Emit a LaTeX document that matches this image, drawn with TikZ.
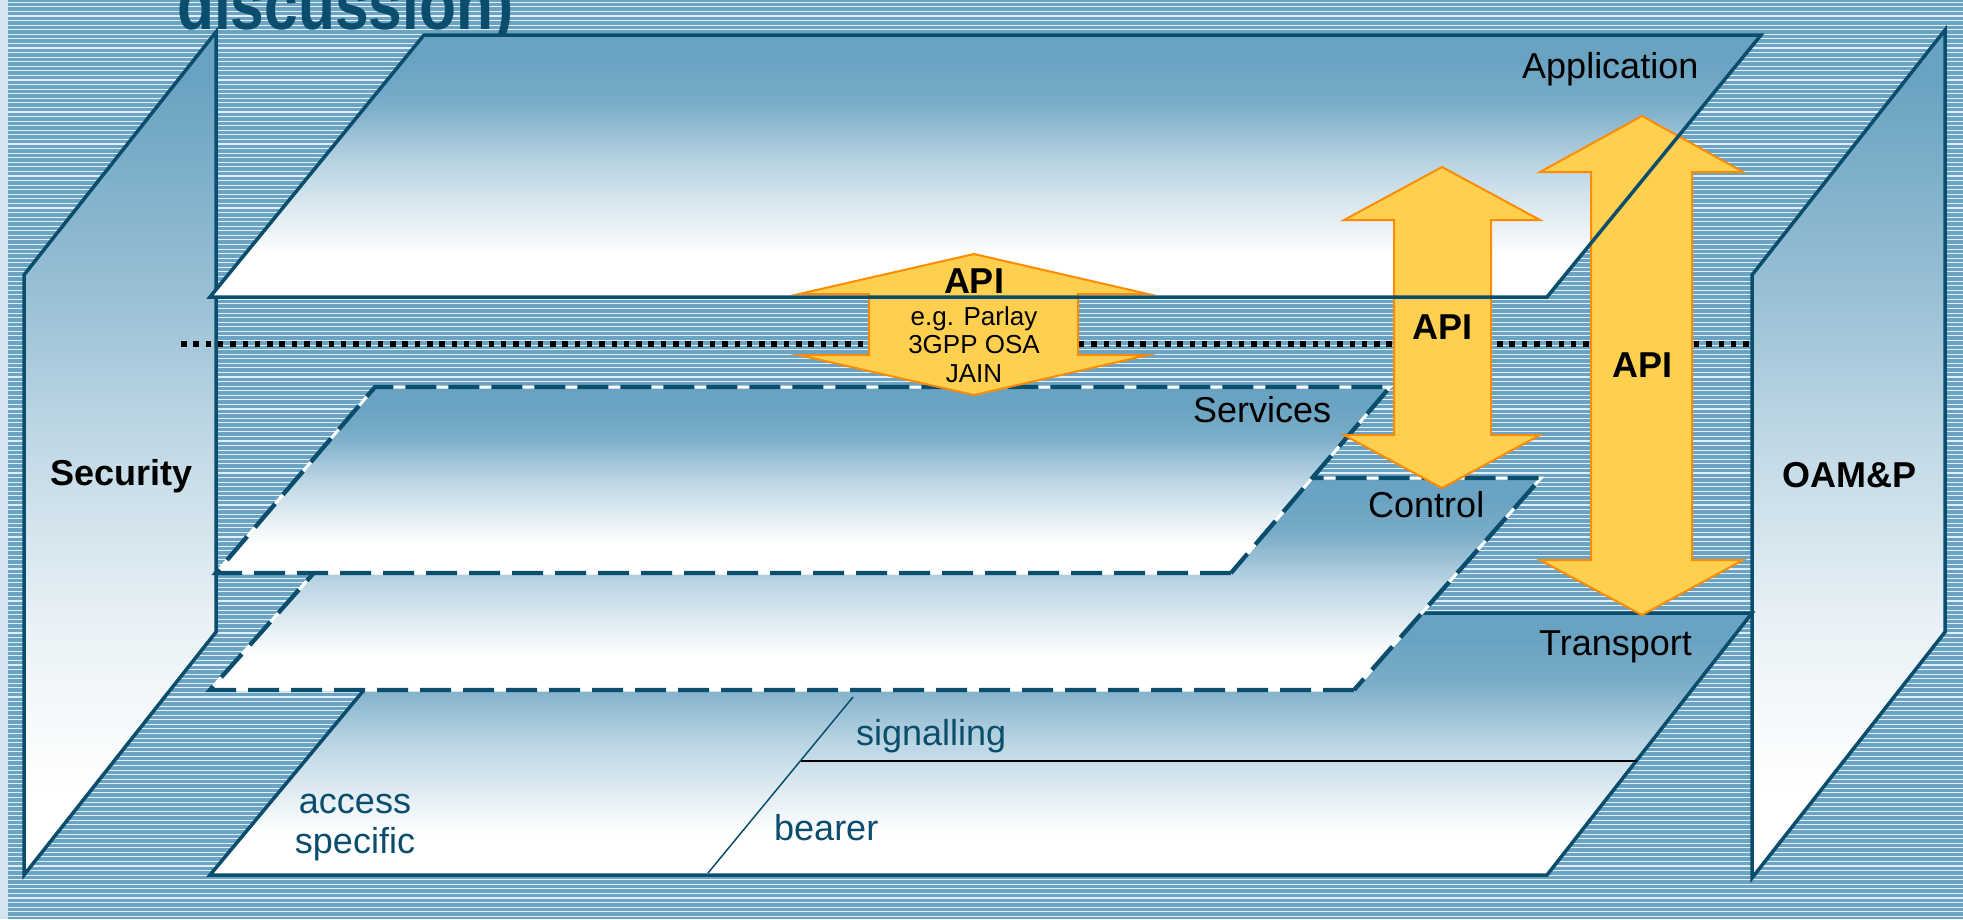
\documentclass[tikz,border=0pt]{standalone}
\usepackage{fontspec}
\setmainfont{Liberation Sans}
\definecolor{lb}{HTML}{6AA3C2}
\definecolor{bgblue}{HTML}{6AA3C3}
\definecolor{stripe}{HTML}{E3EEF4}
\definecolor{leftstrip}{HTML}{D5E5EF}
\definecolor{darkteal}{HTML}{0A4D6C}
\definecolor{arrowfill}{HTML}{FFD04F}
\definecolor{arrowedge}{HTML}{FF8C00}
\pgfdeclareverticalshading{layershade}{100bp}{color(0bp)=(white); color(33bp)=(white); color(50bp)=(lb!45!white); color(62bp)=(lb!90!white); color(70bp)=(lb); color(100bp)=(lb)}
\pgfdeclareverticalshading{wallshade}{100bp}{color(0bp)=(white); color(30bp)=(white); color(40bp)=(lb!15!white); color(50bp)=(lb!40!white); color(60bp)=(lb!70!white); color(72bp)=(lb); color(100bp)=(lb)}
\tikzset{
  solidedge/.style={draw=darkteal, line width=3.5pt, line join=miter},
  dashwhite/.style={draw=white, line width=3pt},
  dashedge/.style={draw=darkteal, line width=4.3pt, dash pattern=on 31pt off 12pt},
  apiarrow/.style={fill=arrowfill, draw=arrowedge, line width=2pt, line join=miter},
  lbl/.style={inner sep=0pt, text=black, font=\fontsize{36}{40}\selectfont},
  blbl/.style={inner sep=0pt, text=black, font=\fontsize{36}{40}\selectfont\bfseries},
  sublbl/.style={inner sep=0pt, text=black, font=\fontsize{26}{28}\selectfont},
  teallbl/.style={inner sep=0pt, text=darkteal, font=\fontsize{36}{40}\selectfont},
}
\begin{document}
\begin{tikzpicture}[x=1pt,y=-1pt]
\useasboundingbox (0,0) rectangle (1963,919);
\clip (0,0) rectangle (1963,919);
% background
\fill[bgblue] (0,0) rectangle (1963,919);
\foreach \i in {0,...,201} {
  \draw[stripe, line width=1.1pt] (8,{2.3+4.57*\i}) -- (1963,{2.3+4.57*\i});
}
\fill[leftstrip] (0,0) rectangle (8,919);
% title (cut off at the top edge, as in the reference)
\node[anchor=base west, inner sep=0pt, text=darkteal, font=\fontsize{72}{74}\selectfont\bfseries, xscale=0.84] (title) at (177,29) {discussion)};
% Security wall
\shade[shading=wallshade] (24,275) -- (216,32) -- (216,632) -- (24,875) -- cycle;
\draw[solidedge] (24,275) -- (216,32) -- (216,632) -- (24,875) -- cycle;
% OAM&P wall
\shade[shading=wallshade] (1752,275) -- (1945,30) -- (1945,632) -- (1752,878) -- cycle;
\draw[solidedge] (1752,275) -- (1945,30) -- (1945,632) -- (1752,878) -- cycle;
% Transport layer
\shade[shading=layershade] (210,875) -- (428,613) -- (1752,613) -- (1547,875) -- cycle;
\draw[solidedge] (210,875) -- (428,613) -- (1752,613) -- (1547,875) -- cycle;
\coordinate (diagtop) at (853,697);
\coordinate (diagbot) at (708,873);
\draw[darkteal, line width=1.5pt] (diagtop) -- (diagbot);
\coordinate (sigL) at (801,761);
\coordinate (sigR) at (1637,761);
\draw[black, line width=1.6pt] (sigL) -- (sigR);
% Control layer
\shade[shading=layershade] (210,690) -- (398,478) -- (1541,478) -- (1354,690) -- cycle;
\draw[dashwhite] (210,690) -- (398,478) -- (1541,478) -- (1354,690) -- cycle;
\draw[dashedge] (1354,690) -- (210,690) -- (398,478) -- (1541,478) -- cycle;
% Services layer
\shade[shading=layershade] (216,573) -- (375,387) -- (1390,387) -- (1231,573) -- cycle;
\draw[dashwhite] (216,573) -- (375,387) -- (1390,387) -- (1231,573) -- cycle;
\draw[dashedge] (1231,573) -- (216,573) -- (375,387) -- (1390,387) -- cycle;
% Application layer fill
\shade[shading=layershade] (210,297) -- (424,35) -- (1761,35) -- (1547,297) -- cycle;
% dotted line
\coordinate (dotL) at (181,344);
\coordinate (dotR) at (1752,344);
\draw[black, line width=6pt, dash pattern=on 5.5pt off 6.8pt] (dotL) -- (dotR);
% API arrows
\draw[apiarrow] (974,254) -- (1148,294) -- (1078,294) -- (1078,355) -- (1148,355) -- (974,395) -- (799,355) -- (869,355) -- (869,294) -- (799,294) -- cycle;
\draw[apiarrow] (1442,167) -- (1540,220) -- (1491,220) -- (1491,435) -- (1540,435) -- (1442,488) -- (1344,435) -- (1394,435) -- (1394,220) -- (1344,220) -- cycle;
\draw[apiarrow] (1642,116) -- (1743,172) -- (1692,172) -- (1692,560) -- (1743,560) -- (1642,615) -- (1540,560) -- (1591,560) -- (1591,172) -- (1540,172) -- cycle;
% Application outline on top
\draw[solidedge] (210,297) -- (424,35) -- (1761,35) -- (1547,297) -- cycle;
% labels
\node[lbl, anchor=base west] (application) at (1522,78) {Application};
\node[lbl, anchor=base west] (services) at (1193,422) {Services};
\node[lbl, anchor=base west] (control) at (1368,517) {Control};
\node[lbl, anchor=base west] (transport) at (1539,655) {Transport};
\node[blbl, anchor=base west] (security) at (50,485) {Security};
\node[blbl, anchor=base west] (oamp) at (1782,487) {OAM\&P};
\node[blbl, anchor=base] (api1) at (974,293) {API};
\node[sublbl, anchor=base] (eg1) at (974,325) {e.g. Parlay};
\node[sublbl, anchor=base] (eg2) at (974,353) {3GPP OSA};
\node[sublbl, anchor=base] (eg3) at (974,382) {JAIN};
\node[blbl, anchor=base] (api2) at (1442,339) {API};
\node[blbl, anchor=base] (api3) at (1642,377) {API};
\node[teallbl, anchor=base] (access) at (355,813) {access};
\node[teallbl, anchor=base] (specific) at (355,853) {specific};
\node[teallbl, anchor=base west] (signalling) at (856,745) {signalling};
\node[teallbl, anchor=base west] (bearer) at (774,840) {bearer};
\end{tikzpicture}
\end{document}
